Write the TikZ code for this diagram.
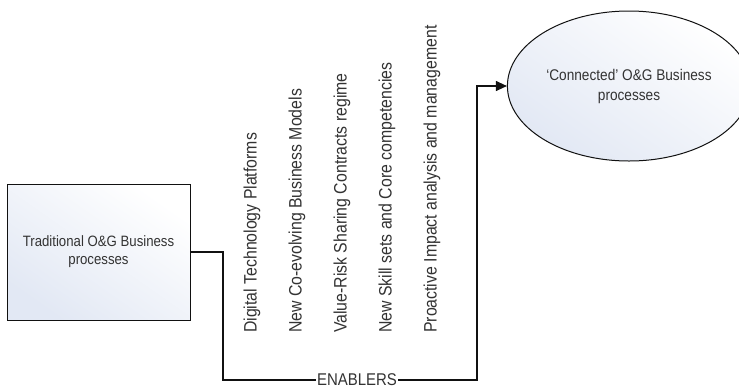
\documentclass[tikz,border=0pt]{standalone}
\usepackage{fontspec}
\setmainfont{Liberation Sans}
\newfontfamily\condsans{Liberation Sans}[FakeStretch=0.88,Ligatures=TeX]
\usepackage{tikz}
\usetikzlibrary{arrows.meta,positioning,calc,shapes.geometric}
\usepackage{xcolor}
\definecolor{ink}{HTML}{111111}
\definecolor{paleblue}{HTML}{E2E8F4}
\definecolor{textgrey}{HTML}{333333}
\tikzset{procbox/.style={draw=ink,line width=1pt,top color=paleblue,bottom color=white,shading angle=145,minimum width=183pt,minimum height=136pt,align=center,font=\condsans\fontsize{15}{18}\selectfont,text=textgrey},goal/.style={ellipse,draw=ink,line width=1pt,top color=paleblue,bottom color=white,shading angle=145,minimum width=222pt,minimum height=150pt,align=center,font=\condsans\fontsize{15.5}{20}\selectfont,text=textgrey},enabler/.style={rotate=90,anchor=west,inner sep=0pt,font=\condsans\fontsize{18}{20}\selectfont,text=textgrey},link/.style={line width=1.1pt,draw=ink},arrow/.style={-{Triangle[length=11pt,width=10pt]},line width=1.1pt,draw=ink}}

\begin{document}
\begin{tikzpicture}[x=1pt,y=-1pt]
\useasboundingbox (0,0) rectangle (739,389);
\node[procbox] (trad) at (98.5,252) {Traditional O\&G Business\\processes};
\node[goal] (conn) at (629,86) {‘Connected’ O\&G Business\\processes};
\node[enabler] (e1) at (252,333) {Digital Technology Platforms};
\node[enabler] (e2) at (297,333) {New Co-evolving Business Models};
\node[enabler] (e3) at (342,333) {Value-Risk Sharing Contracts regime};
\node[enabler] (e4) at (387,333) {New Skill sets and Core competencies};
\node[enabler] (e5) at (432,333) {Proactive Impact analysis and management};
\node[fill=white,inner sep=1pt,font=\condsans\fontsize{17}{18}\selectfont,text=textgrey] (enab) at (357,380) {ENABLERS};
\coordinate (downturn) at (223,380);
\coordinate (upturn) at (477,380);
\draw[link] (trad.east) -| (downturn) -- (enab.west);
\draw[arrow] (enab.east) -- (upturn) |- (conn.west);
\end{tikzpicture}
\end{document}
